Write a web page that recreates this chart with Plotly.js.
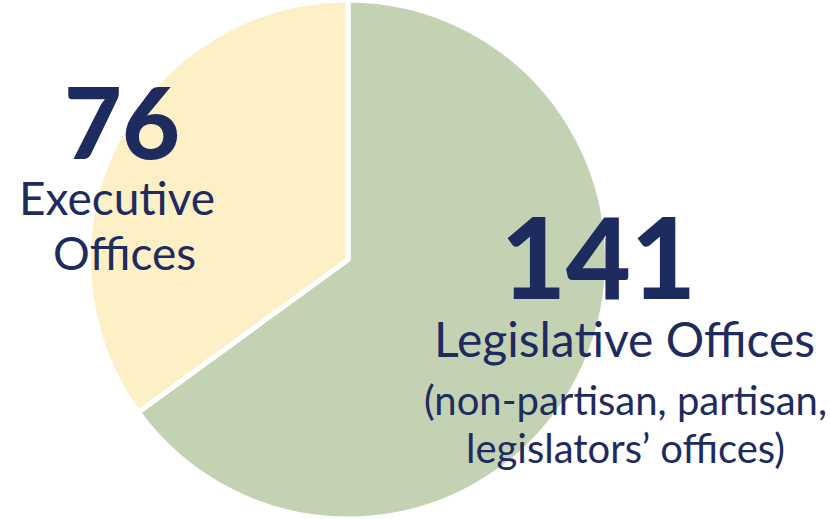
<!DOCTYPE html>
<html><head><meta charset="utf-8">
<script src="https://cdn.plot.ly/plotly-3.0.1.min.js"></script>
<style>html,body{margin:0;padding:0;background:#fff}#c{width:830px;height:519px}</style>
</head><body><div id="c"></div>
<script>
const categories = ["Legislative Offices", "Executive Offices"];
const counts = [141, 76];
const sliceColors = ["#C3D2B2", "#FDEFC6"];
const bigLabels = ["141", "76"];

const W = 830, H = 519;
const navy = "#1E2B5E";
const fam = "Lato, 'Noto Sans', sans-serif";
function px(x){return x/W;}
function py(y){return 1 - y/H;}

const annotations = [
  {text: bigLabels[1], x: px(122), y: py(120), size: 100, weight: 900},
  {text: "Executive", x: px(117), y: py(197), size: 46, weight: 400},
  {text: "Offices", x: px(124), y: py(252), size: 46, weight: 400},
  {text: bigLabels[0], x: px(598), y: py(255), size: 112, weight: 900},
  {text: "Legislative Offices", x: px(624), y: py(338), size: 48, weight: 400},
  {text: "(non-partisan, partisan,", x: px(625), y: py(400), size: 40, weight: 400},
  {text: "legislators\u2019 offices)", x: px(625), y: py(448), size: 40, weight: 400}
].map(a => ({
  xref: "paper", yref: "paper", x: a.x, y: a.y, text: a.text, showarrow: false,
  xanchor: "center", yanchor: "middle",
  font: {family: fam, size: a.size, color: navy, weight: a.weight}
}));

Plotly.newPlot("c", [{
  type: "pie",
  labels: categories,
  values: counts,
  sort: false,
  direction: "clockwise",
  rotation: 0,
  marker: {colors: sliceColors, line: {color: "#ffffff", width: 5}},
  textinfo: "none",
  hoverinfo: "label+value",
  domain: {x: [88/W, 608/W], y: [0, 1]}
}], {
  width: W, height: H,
  margin: {l: 0, r: 0, t: 0, b: 0},
  showlegend: false,
  paper_bgcolor: "#ffffff",
  annotations: annotations
}, {displayModeBar: false, staticPlot: true});
</script></body></html>
